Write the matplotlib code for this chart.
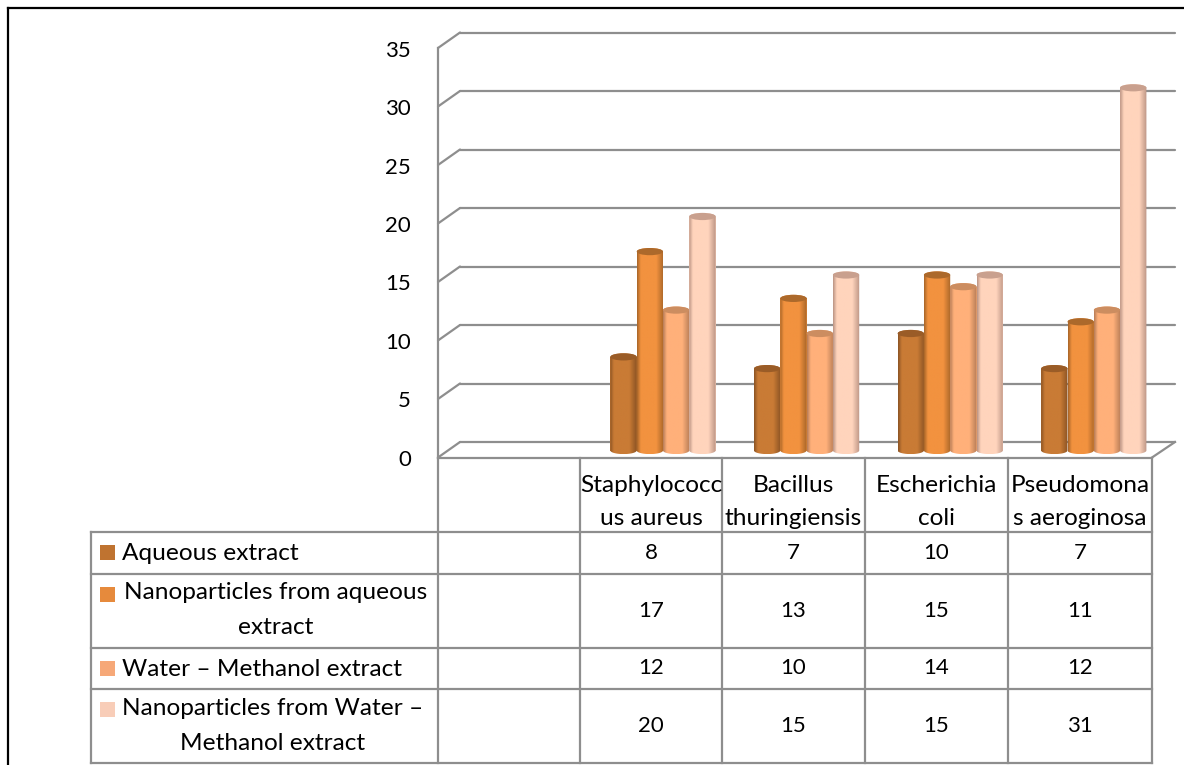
import numpy as np
import matplotlib
matplotlib.use("Agg")
import matplotlib.pyplot as plt
from matplotlib.colors import LinearSegmentedColormap
from matplotlib.patches import Ellipse, Polygon, Rectangle

categories = ["Staphylococc\nus aureus", "Bacillus\nthuringiensis", "Escherichia\ncoli", "Pseudomona\ns aeroginosa"]
series_names = ["Aqueous extract", "Nanoparticles from aqueous\nextract", "Water – Methanol extract", "Nanoparticles from Water –\nMethanol extract"]
aqueous = [8, 7, 10, 7]
nano_aqueous = [17, 13, 15, 11]
water_methanol = [12, 10, 14, 12]
nano_water_methanol = [20, 15, 15, 31]
yticks = [0, 5, 10, 15, 20, 25, 30, 35]

series = [aqueous, nano_aqueous, water_methanol, nano_water_methanol]
key_colors = ["#BF7330", "#E68A3C", "#F6A878", "#F8CDB8"]
body_colors = ["#C97B35", "#F2923F", "#FFB07A", "#FFD4BC"]
edge_colors = ["#8C5424", "#A96628", "#B87D57", "#BC9585"]
top_colors = ["#9A5C27", "#AC692B", "#CC8D60", "#C9A08E"]

W, H = 1184, 765
PX_PER_UNIT = 11.7
BASE_PX = 450.5
GROUP0_PX = 663.0
GROUP_STEP = 143.6
BAR_W = 26.3 / GROUP_STEP
GRID = "#8E8E8E"
plt.rcParams["font.family"] = ["Lato", "DejaVu Sans"]
FS = 17.6
FS_NUM = 16

fig = plt.figure(figsize=(W / 100, H / 100), dpi=100)
tb = fig.add_axes([0, 0, 1, 1], zorder=3)
tb.set_xlim(0, W); tb.set_ylim(H, 0); tb.axis("off")
ax = fig.add_axes([0, 0, 1, 1], zorder=2)
ax.patch.set_alpha(0)
ax.axis("off")

def xd(px):
    return (px - GROUP0_PX) / GROUP_STEP

def yoff(px):
    return (BASE_PX - px) / PX_PER_UNIT

FRONT, BACK = yoff(457.5), yoff(442.0)
XF, XB, XFR, XBR = xd(438), xd(460), xd(1152), xd(1175)
for t in yticks:
    ax.plot([XF, XB], [t + FRONT, t + BACK], color=GRID, lw=1.6, zorder=1, solid_capstyle="round")
    ax.plot([XB, XBR], [t + BACK, t + BACK], color=GRID, lw=1.6, zorder=1, solid_capstyle="round")
    tb.text(411, 459.5 - t * 11.67, str(t), ha="right", va="center", fontsize=FS_NUM, color="black")
ax.plot([XF, XF], [FRONT, 35 + FRONT], color=GRID, lw=1.6, zorder=1)
ax.plot([XF, XFR], [FRONT, FRONT], color=GRID, lw=1.6, zorder=1)
ax.plot([XFR, XBR], [FRONT, BACK], color=GRID, lw=1.6, zorder=1)

hw = BAR_W / 2
b = 3.6 / PX_PER_UNIT
t_arc = np.linspace(0, np.pi, 40)
for s, vals in enumerate(series):
    cmap = LinearSegmentedColormap.from_list(
        f"c{s}", [(0, edge_colors[s]), (0.14, body_colors[s]), (0.72, body_colors[s]), (1, edge_colors[s])])
    grad = np.linspace(0, 1, 64)[None, :]
    xs = np.arange(len(vals)) + (s - 1.5) * BAR_W
    ax.bar(xs, vals, width=BAR_W, color=body_colors[s], linewidth=0, zorder=2 + s)
    for x, v in zip(xs, vals):
        outline = np.vstack([
            np.column_stack([x + hw * np.cos(t_arc), v + b * np.sin(t_arc)]),
            np.column_stack([x - hw * np.cos(t_arc), -b * np.sin(t_arc)]),
        ])
        clip = Polygon(outline, closed=True, transform=ax.transData, fc="none", ec="none")
        ax.add_patch(clip)
        im = ax.imshow(grad, cmap=cmap, aspect="auto", extent=[x - hw, x + hw, -b, v + b], zorder=2.2 + s, interpolation="bilinear")
        im.set_clip_path(clip)
        ax.add_patch(Ellipse((x, v), BAR_W, 2 * b, fc=top_colors[s], ec="none", zorder=2.4 + s))

ax.set_xlim(xd(0), xd(W))
ax.set_ylim(yoff(H), yoff(0))

col_x = [438, 580, 722, 865, 1008, 1152]
row_y = [532, 574, 648, 689, 763]
LEFT = 91
TOP = 457.5
LW = 1.6
for x in col_x:
    tb.plot([x, x], [TOP, row_y[-1]], color=GRID, lw=LW)
tb.plot([LEFT, LEFT], [row_y[0], row_y[-1]], color=GRID, lw=LW)
for y in row_y:
    tb.plot([LEFT, col_x[-1]], [y, y], color=GRID, lw=LW)

for i, name in enumerate(categories):
    tb.text((col_x[i + 1] + col_x[i + 2]) / 2, 502, name,
            ha="center", va="center", fontsize=FS, linespacing=1.7, color="black")

centers = [553, 611, 668.5, 726]
key_top = [545, 587, 661, 702]
label_pos = [(122, "left", 553), (276, "center", 610), (122, "left", 670), (273, "center", 726)]
for i, name in enumerate(series_names):
    tb.add_patch(Rectangle((100, key_top[i]), 15, 15, fc=key_colors[i], ec="none"))
    px, ha, py = label_pos[i]
    tb.text(px, py, name, ha=ha, va="center", multialignment="center", fontsize=FS, linespacing=1.8, color="black")
    for j, v in enumerate(series[i]):
        tb.text((col_x[j + 1] + col_x[j + 2]) / 2, centers[i], str(v),
                ha="center", va="center", fontsize=FS_NUM, color="black")

tb.plot([8, 8], [H, 8], color="black", lw=1.6)
tb.plot([8, W], [8, 8], color="black", lw=1.6)

fig.savefig("out.png", dpi=100)
